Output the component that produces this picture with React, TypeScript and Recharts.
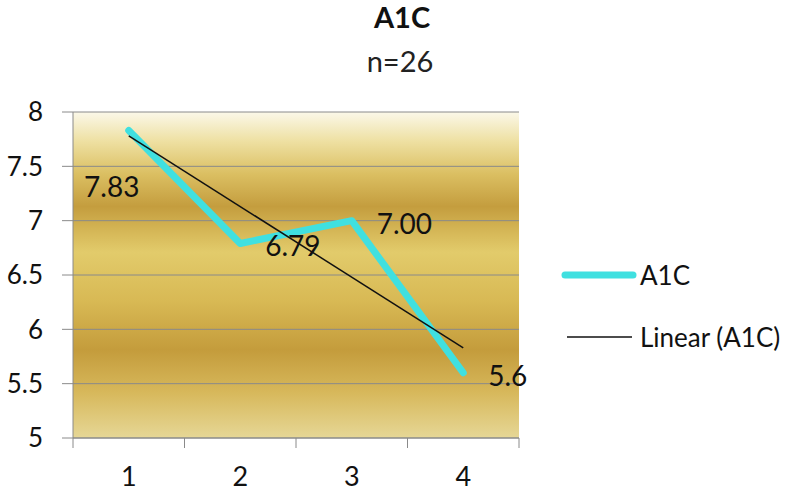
import { LineChart, Line, XAxis, YAxis, CartesianGrid, Legend, LabelList } from "recharts";

const categories = [1, 2, 3, 4];
const a1cValues = [7.83, 6.79, 7.0, 5.6];
const a1cLabels = ["7.83", "6.79", "7.00", "5.6"];
// Excel trendline, read at its two ends
const trendValues = [7.78, null, null, 5.83];
const yTicks = [5, 5.5, 6, 6.5, 7, 7.5, 8];

const data = categories.map((c, i) => ({
  cat: c,
  a1c: a1cValues[i],
  label: a1cLabels[i],
  trend: trendValues[i],
}));

// tick marks sit between the categories, like Excel
const xTicks = [categories[0] - 0.5, ...categories.flatMap((c) => [c, c + 0.5])];

const SANS = "Lato, 'Open Sans', sans-serif";
const GRID = "#8a8a8a";

const XTick = (props: any) => {
  const { x, y, payload } = props;
  if (Number.isInteger(payload.value)) {
    return (
      <text x={x} y={y + 48} textAnchor="middle" fontFamily={SANS} fontSize={27} fill="#111">
        {payload.value}
      </text>
    );
  }
  return <line x1={x} x2={x} y1={y} y2={y + 10} stroke={GRID} strokeWidth={1} />;
};

const PointLabel = (props: any) => {
  const { x, y, value, index } = props;
  const below = index === 0;
  return (
    <text
      x={below ? x - 17 : x + 25}
      y={below ? y + 56 : y + 2}
      textAnchor={below ? "middle" : "start"}
      dominantBaseline="central"
      fontFamily={SANS}
      fontSize={28}
      fill="#111"
    >
      {value}
    </text>
  );
};

const LegendBox = () => (
  <div style={{ fontFamily: SANS, fontSize: 26, color: "#111" }}>
    <div style={{ display: "flex", alignItems: "center", height: 40 }}>
      <svg width={80} height={10}>
        <line x1={5} x2={73} y1={5} y2={5} stroke="#40e0e0" strokeWidth={7} strokeLinecap="round" />
      </svg>
      <span>A1C</span>
    </div>
    <div style={{ display: "flex", alignItems: "center", height: 40, marginTop: 22 }}>
      <svg width={80} height={10}>
        <line x1={7} x2={72} y1={5} y2={5} stroke="#111" strokeWidth={1.5} />
      </svg>
      <span>Linear (A1C)</span>
    </div>
  </div>
);

export default function App() {
  return (
    <div style={{ position: "absolute", left: 0, top: 0, width: 800, height: 491, background: "#fff" }}>
      <svg width={0} height={0} style={{ position: "absolute" }}>
        <defs>
          <linearGradient id="goldBg" x1="0" y1="0" x2="0" y2="1">
            <stop offset="0%" stopColor="#fbf8e9" />
            <stop offset="9%" stopColor="#eee0a2" />
            <stop offset="19%" stopColor="#dbbf62" />
            <stop offset="29%" stopColor="#c49d3e" />
            <stop offset="36%" stopColor="#d4b555" />
            <stop offset="43%" stopColor="#e2cb6b" />
            <stop offset="58%" stopColor="#d8b954" />
            <stop offset="73%" stopColor="#c49c3c" />
            <stop offset="86%" stopColor="#d7b85b" />
            <stop offset="100%" stopColor="#e6d796" />
          </linearGradient>
        </defs>
      </svg>
      <div style={{ position: "absolute", left: 0, width: 804, top: 2, textAlign: "center", fontFamily: SANS, fontWeight: 700, fontSize: 29, lineHeight: 1, color: "#111" }}>
        A1C
      </div>
      <div style={{ position: "absolute", left: 0, width: 800, top: 46, textAlign: "center", fontFamily: SANS, fontSize: 29, lineHeight: 1, color: "#222" }}>
        n=26
      </div>
      <LineChart width={800} height={491} data={data} margin={{ top: 112, right: 281, bottom: 0, left: 0 }}>
        <CartesianGrid vertical={false} stroke={GRID} fill="url(#goldBg)" fillOpacity={1} />
        <XAxis
          dataKey="cat"
          type="number"
          domain={[0.5, 4.5]}
          ticks={xTicks}
          interval={0}
          height={53}
          tickLine={false}
          tickSize={0}
          tickMargin={0}
          axisLine={{ stroke: GRID }}
          tick={<XTick />}
        />
        <YAxis
          type="number"
          domain={[5, 8]}
          ticks={yTicks}
          interval={0}
          width={73}
          tickSize={11}
          tickMargin={19}
          tickLine={{ stroke: GRID }}
          axisLine={{ stroke: GRID }}
          tick={{ fontFamily: SANS, fontSize: 26, fill: "#111" }}
        />
        <Line
          dataKey="a1c"
          name="A1C"
          stroke="#40e0e0"
          strokeWidth={7}
          strokeLinejoin="round"
          strokeLinecap="round"
          dot={false}
          isAnimationActive={false}
        >
          <LabelList dataKey="label" content={<PointLabel />} />
        </Line>
        <Line
          dataKey="trend"
          name="Linear (A1C)"
          stroke="#111"
          strokeWidth={1.5}
          connectNulls
          dot={false}
          isAnimationActive={false}
        />
        <Legend
          layout="vertical"
          align="center"
          verticalAlign="middle"
          content={<LegendBox />}
          wrapperStyle={{ position: "absolute", left: 560, top: 255, width: 240 }}
        />
      </LineChart>
    </div>
  );
}
